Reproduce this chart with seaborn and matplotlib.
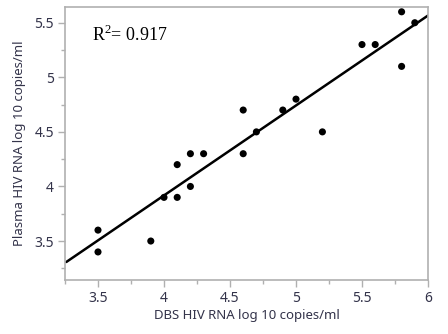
import numpy as np
import pandas as pd
import matplotlib
matplotlib.use("Agg")
import matplotlib.pyplot as plt
import seaborn as sns

dbs = [3.5, 3.5, 3.9, 4.0, 4.1, 4.1, 4.2, 4.2, 4.3, 4.6, 4.6, 4.7, 4.9, 5.0, 5.2, 5.5, 5.6, 5.8, 5.8, 5.9]
plasma = [3.6, 3.4, 3.5, 3.9, 3.9, 4.2, 4.0, 4.3, 4.3, 4.7, 4.3, 4.5, 4.7, 4.8, 4.5, 5.3, 5.3, 5.6, 5.1, 5.5]
x_ticks = [3.5, 4, 4.5, 5, 5.5, 6]
y_ticks = [3.5, 4, 4.5, 5, 5.5]
x_labels = ["3.5", "4", "4.5", "5", "5.5", "6"]
y_labels = ["3.5", "4", "4.5", "5", "5.5"]

df = pd.DataFrame({"dbs": dbs, "plasma": plasma})

sns.set_style("white")
plt.rcParams['font.family'] = ['Noto Sans', 'DejaVu Sans']

fig = plt.figure(figsize=(4.48, 3.34), dpi=100)
ax = fig.add_axes([65/448, 1 - 280/334, (428-65)/448, (280-7)/334])
ax.set_xlim(3.26, 6.0)
ax.set_ylim(3.143, 5.644)

sns.regplot(data=df, x="dbs", y="plasma", ax=ax, ci=None, truncate=False,
            scatter_kws=dict(s=26, color="black", edgecolor="none", alpha=1),
            line_kws=dict(color="black", lw=1.8))
ax.set_xlim(3.26, 6.0)
ax.set_ylim(3.143, 5.644)

ax.set_xticks(x_ticks)
ax.set_xticklabels(x_labels)
ax.set_yticks(y_ticks)
ax.set_yticklabels(y_labels)
ax.set_xticks([3.25, 3.75, 4.25, 4.75, 5.25, 5.75], minor=True)
ax.set_yticks([3.25, 3.75, 4.25, 4.75, 5.25], minor=True)

for s in ax.spines.values():
    s.set_color("#b0b0b0")
    s.set_linewidth(1.2)
ax.tick_params(axis="both", which="major", direction="out", length=5, width=1,
               color="#b0b0b0", labelsize=10, labelcolor="#33334a", pad=3,
               bottom=True, left=True)
ax.tick_params(axis="both", which="minor", direction="out", length=3, width=1,
               color="#b0b0b0", bottom=True, left=True)

ax.set_xlabel("DBS HIV RNA log 10 copies/ml", fontsize=9.5, color="#33334a", labelpad=2)
ax.set_ylabel("Plasma HIV RNA log 10 copies/ml", fontsize=9.5, color="#33334a", labelpad=6)

ax.text(0.075, 0.935, r"R$^{\mathregular{2}}$= 0.917", transform=ax.transAxes, fontsize=13,
        family="Liberation Serif", va="top", ha="left", color="black")

fig.savefig("out.png", dpi=100)
